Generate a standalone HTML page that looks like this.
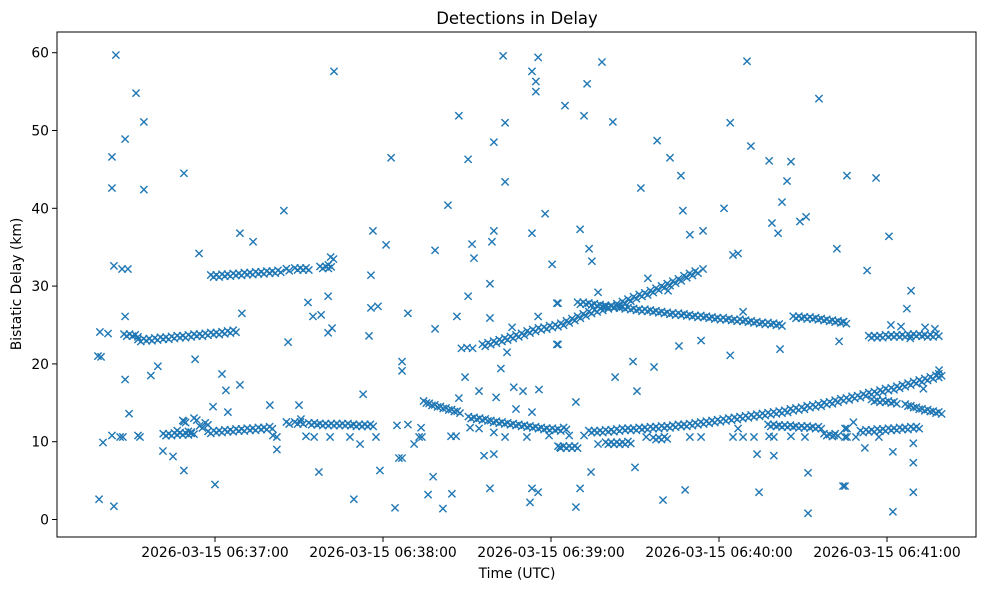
<!DOCTYPE html>
<html><head><meta charset="utf-8"><title>Detections in Delay</title>
<style>
html,body{margin:0;padding:0;background:#fff;}
svg{display:block;font-family:"DejaVu Sans","Liberation Sans",sans-serif;}
</style></head>
<body>
<svg id="chart" width="989" height="590" viewBox="0 0 989 590" xmlns="http://www.w3.org/2000/svg">
<rect x="0" y="0" width="989" height="590" fill="#fff"/>
<text x="517" y="24" text-anchor="middle" font-size="16.5" fill="#000">Detections in Delay</text>
<g id="marks"></g>
<g id="axes"></g>
<text x="517" y="578" text-anchor="middle" font-size="13.9" fill="#000">Time (UTC)</text>
<text transform="translate(21,284) rotate(-90)" text-anchor="middle" font-size="13.9" fill="#000">Bistatic Delay (km)</text>
</svg>
<script>
// time in seconds after 2026-03-15 06:35:55 UTC, delay in km
const xTickSeconds = [65, 125, 185, 245, 305];
const xTickLabels = ["2026-03-15 06:37:00","2026-03-15 06:38:00","2026-03-15 06:39:00","2026-03-15 06:40:00","2026-03-15 06:41:00"];
const yTickValues = [0, 10, 20, 30, 40, 50, 60];

// scattered detections
const scatterTimes = [29.6,36.8,39.6,32.9,28.2,53.9,28.2,39.6,73.9,59.3,28.9,31.8,33.9,74.6,32.9,23.9,26.8,23.2,24.3,32.9,42.1,44.6,57.9,67.5,68.9,73.9,34.3,64.3,53.9,69.6,25.0,28.2,31.1,32.1,37.5,38.2,46.4,50.0,53.9,65.0,23.6,28.9,
107.5,127.9,89.6,78.6,121.4,126.1,120.7,98.2,105.4,100.0,102.9,105.4,106.8,120.7,123.2,120.0,91.1,131.8,131.8,117.9,84.6,95.0,95.7,85.7,87.1,87.1,97.5,100.4,106.1,113.2,116.8,122.5,130.0,130.7,102.1,123.9,114.6,129.3,
167.9,180.4,178.2,179.6,179.6,152.1,168.6,164.6,155.4,168.6,148.2,182.9,164.6,163.9,156.8,178.2,143.6,157.5,185.4,163.2,155.4,187.1,133.9,151.4,163.2,180.4,143.6,171.1,187.1,169.3,167.1,153.0,155.0,157.0,154.3,152.1,159.3,165.4,171.7,175.0,180.7,172.5,178.2,133.9,138.6,136.1,137.9,138.9,149.3,151.1,156.1,159.3,164.6,168.6,176.4,184.3,188.2,161.1,164.6,131.8,142.9,141.1,149.6,146.4,163.2,178.2,180.4,177.5,
203.2,197.9,190.0,196.8,207.1,222.9,227.5,231.4,217.1,232.1,195.4,234.6,239.3,198.6,199.6,219.6,239.3,201.8,226.8,187.5,187.5,230.7,238.6,214.3,221.8,207.9,215.7,193.9,191.5,196.8,201.8,219.0,234.6,238.6,199.3,215.0,195.4,193.9,225.0,232.9,
255.0,280.7,249.0,256.4,262.9,270.7,290.7,269.3,246.8,267.5,263.9,266.1,273.9,276.1,250.0,251.8,287.1,253.6,287.9,249.0,266.8,251.8,250.0,253.6,257.5,262.9,264.6,270.7,275.7,286.1,290.7,290.7,258.6,264.6,276.8,290.0,259.3,276.8,
301.1,305.7,297.9,313.6,312.1,289.3,306.4,310.0,318.6,322.1,313.3,323.6,318.0,290.0,293.0,290.0,293.9,297.1,302.1,307.1,314.4,314.4,289.3,314.4,307.1];
const scatterDelays = [59.7,54.8,51.1,48.9,46.6,44.5,42.6,42.4,36.8,34.2,32.6,32.2,32.2,26.5,26.1,24.1,23.9,21.0,20.9,18.0,18.5,19.7,20.6,18.7,16.6,17.3,13.6,14.5,12.6,13.8,9.9,10.8,10.6,10.6,10.8,10.6,8.8,8.1,6.3,4.5,2.6,1.7,
57.6,46.5,39.7,35.7,37.1,35.3,31.4,27.9,28.7,26.1,26.3,24.0,24.6,27.2,27.4,23.6,22.8,20.3,19.1,16.1,14.7,14.7,12.9,10.8,10.6,9.0,10.7,10.6,10.6,10.6,9.7,10.6,12.1,7.9,6.1,6.3,2.6,1.5,
59.6,59.4,57.6,56.3,55.0,51.9,51.0,48.5,46.3,43.4,40.4,39.3,37.1,35.7,35.4,36.8,34.6,33.6,32.8,30.3,28.7,27.8,26.5,26.1,25.9,26.1,24.5,24.7,22.5,21.5,19.4,22.0,22.1,22.0,18.3,15.6,16.5,15.7,17.0,16.5,16.7,14.2,13.8,12.2,11.8,9.7,10.6,10.6,10.7,10.7,11.8,11.7,11.2,10.6,10.6,10.8,9.3,8.2,8.4,7.9,5.5,3.2,3.3,1.4,4.0,4.0,3.5,2.2,
58.8,56.0,53.2,51.9,51.1,48.7,46.5,44.2,42.6,39.7,37.3,36.6,37.1,34.8,33.2,31.0,32.2,29.2,29.4,27.8,22.5,22.3,23.0,20.3,19.6,18.3,16.5,15.1,10.8,10.8,9.7,10.6,10.6,10.6,6.1,6.7,4.0,1.6,2.5,3.8,
58.9,54.1,51.0,48.0,46.1,46.0,44.2,43.5,40.0,40.8,38.1,36.8,38.3,38.9,34.0,34.2,34.8,26.7,22.9,21.1,21.9,11.7,10.6,10.6,10.6,10.7,10.6,10.7,10.6,10.8,11.7,10.6,8.4,8.2,6.0,4.3,3.5,0.8,
43.9,36.4,32.0,29.4,27.1,25.4,25.0,24.8,24.7,24.5,23.3,19.2,16.8,11.7,12.5,10.6,10.6,9.2,10.6,8.7,7.3,9.8,4.3,3.5,1.0];

// track-like detections
const trackTimes = [33,35,37,38,40,42,44,46,48,50,52,54,56,58,60,62,64,66,68,70,72,
64,66,68,70,72,74,76,78,80,82,84,86,88,91,94,96,98,103,105,106,106.8,
47,49,51,53,55,57,63,65,67,69,71,73,75,77,79,81,83,85,52,54,56,58,60,62,
91,94,96,99,101,103,105,107,109,111,113,115,117,119,121,
140,142,144,146,148,150,152,156,158,160,162,164,166,168,170,172,174,176,178,180,182,184,186,188,190,
161,163,165,167,169,171,173,175,177,179,181,183,185,187,189,191,193,195,197,199,201,203,205,207,209,211,213,215,217,219,221,223,225,227,229,231,233,235,237,
195,197,199,201,203,205,207,209,211,213,215,217,219,221,223,225,227,229,231,233,235,237,239,241,243,245,247,249,251,253,255,257,259,261,263,265,267,
272,274,276,278,280,282,284,286,288,290,
199,201,203,205,207,209,211,213,215,217,219,221,223,225,227,229,231,233,235,237,239,241,243,245,247,249,251,253,255,257,259,261,263,265,267,269,271,273,275,277,279,281,283,285,287,289,291,293,295,297,299,301,303,305,307,309,311,313,315,317,319,321,323,324,
296,298,300,302,304,306,308,310,312,314,316,
300,302,304,306,308,312,314,316,318,320,322,324,
299,301,303,305,307,309,311,313,315,317,319,321,323,
263,265,267,269,271,273,275,277,279,281,283,285,287,
205,207,209,211,213,222,224,226,188,190,192,194];
const trackDelays = [23.7,23.7,23.6,23.0,23.1,23.1,23.2,23.3,23.3,23.4,23.5,23.5,23.6,23.7,23.7,23.8,23.9,23.9,24.0,24.1,24.2,
31.3,31.3,31.4,31.4,31.5,31.5,31.6,31.6,31.7,31.7,31.8,31.8,31.9,32.1,32.2,32.2,32.2,32.4,32.4,32.6,33.6,
10.9,10.9,11.0,11.0,11.0,11.1,11.2,11.3,11.3,11.4,11.4,11.5,11.5,11.6,11.6,11.7,11.7,11.8,11.3,12.6,11.2,12.9,11.9,12.3,
12.4,12.4,12.4,12.3,12.3,12.2,12.2,12.2,12.2,12.2,12.2,12.1,12.1,12.1,12.1,
15.1,14.8,14.6,14.4,14.2,14.0,13.8,13.1,13.0,12.9,12.8,12.6,12.5,12.4,12.3,12.2,12.1,12.0,11.9,11.8,11.7,11.6,11.6,11.5,11.7,
22.4,22.6,22.8,23.0,23.2,23.4,23.6,23.8,24.1,24.3,24.5,24.6,24.8,24.9,25.1,25.4,25.7,26.0,26.3,26.6,26.8,27.0,27.2,27.4,27.6,27.9,28.2,28.5,28.8,29.0,29.3,29.6,29.9,30.2,30.5,30.8,31.2,31.5,31.8,
27.8,27.8,27.7,27.6,27.5,27.4,27.3,27.3,27.2,27.1,27.0,26.9,26.9,26.8,26.7,26.6,26.5,26.4,26.4,26.3,26.2,26.1,26.1,26.0,25.9,25.8,25.8,25.7,25.6,25.6,25.5,25.4,25.3,25.2,25.2,25.1,25.0,
26.0,26.0,25.9,25.9,25.8,25.7,25.6,25.5,25.4,25.3,
11.3,11.3,11.3,11.4,11.4,11.5,11.6,11.6,11.6,11.7,11.7,11.8,11.8,11.9,11.9,12.0,12.1,12.1,12.2,12.3,12.4,12.5,12.6,12.7,12.8,12.9,13.0,13.1,13.2,13.3,13.4,13.5,13.6,13.7,13.8,13.9,14.1,14.2,14.3,14.5,14.6,14.7,14.9,15.0,15.2,15.4,15.5,15.7,15.8,16.0,16.2,16.3,16.5,16.7,16.8,17.0,17.2,17.4,17.6,17.8,18.0,18.2,18.4,18.6,
11.3,11.4,11.4,11.5,11.5,11.6,11.6,11.7,11.7,11.8,11.8,
15.3,15.2,15.2,15.1,15.0,14.7,14.5,14.3,14.1,14.0,13.8,13.7,
23.5,23.5,23.5,23.6,23.6,23.6,23.6,23.7,23.7,23.7,23.6,23.6,23.7,
12.1,12.1,12.0,12.0,12.0,11.9,11.9,11.9,11.8,11.8,10.9,10.8,10.9,
9.8,9.8,9.8,9.8,9.9,10.4,10.4,10.5,9.3,9.3,9.3,9.3];

const NS = "http://www.w3.org/2000/svg";
const plot = {left:57, right:976, top:32, bottom:537};
function xScale(s){ return 33 + 2.8 * s; }
function yScale(v){ return 519.5 - 7.78 * v; }

const marks = document.getElementById('marks');
function markerPath(cx, cy, r){
  return `M${cx-r},${cy-r}L${cx+r},${cy+r}M${cx-r},${cy+r}L${cx+r},${cy-r}`;
}
function drawX(s, v, name){
  const p = document.createElementNS(NS, 'path');
  p.setAttribute('d', markerPath(xScale(s), yScale(v), 3.6));
  p.setAttribute('stroke', '#1f77b4');
  p.setAttribute('stroke-width', '1.4');
  p.setAttribute('fill', 'none');
  
  
  marks.appendChild(p);
}
// dense track detections: drawn as a slightly thickened cluster of markers
function drawTrackX(s, v){
  const cx = xScale(s), cy = yScale(v);
  const d = markerPath(cx - 1.4, cy - 1, 3.6) + markerPath(cx + 1.4, cy + 1, 3.6);
  const p = document.createElementNS(NS, 'path');
  p.setAttribute('d', d);
  p.setAttribute('stroke', '#1f77b4');
  p.setAttribute('stroke-width', '1.4');
  p.setAttribute('fill', 'none');
  
  
  marks.appendChild(p);
}
for (let i = 0; i < scatterTimes.length; i++) drawX(scatterTimes[i], scatterDelays[i], 'detection-marker');
for (let i = 0; i < trackTimes.length; i++) drawTrackX(trackTimes[i], trackDelays[i]);

const axes = document.getElementById('axes');
const frame = document.createElementNS(NS, 'rect');
frame.setAttribute('x', plot.left); frame.setAttribute('y', plot.top);
frame.setAttribute('width', plot.right - plot.left); frame.setAttribute('height', plot.bottom - plot.top);
frame.setAttribute('fill', 'none'); frame.setAttribute('stroke', '#000'); frame.setAttribute('stroke-width', '1');


axes.appendChild(frame);

xTickSeconds.forEach((s, i) => {
  const x = xScale(s);
  const t = document.createElementNS(NS, 'line');
  t.setAttribute('x1', x); t.setAttribute('x2', x); t.setAttribute('y1', plot.bottom); t.setAttribute('y2', plot.bottom + 5);
  t.setAttribute('stroke', '#000');
  
  
  axes.appendChild(t);
  const l = document.createElementNS(NS, 'text');
  l.setAttribute('x', x); l.setAttribute('y', plot.bottom + 20);
  l.setAttribute('text-anchor', 'middle'); l.setAttribute('font-size', '13.9');
  l.textContent = xTickLabels[i];
  
  
  axes.appendChild(l);
});
yTickValues.forEach(v => {
  const y = yScale(v);
  const t = document.createElementNS(NS, 'line');
  t.setAttribute('x1', plot.left - 5); t.setAttribute('x2', plot.left); t.setAttribute('y1', y); t.setAttribute('y2', y);
  t.setAttribute('stroke', '#000');
  
  
  axes.appendChild(t);
  const l = document.createElementNS(NS, 'text');
  l.setAttribute('x', plot.left - 8); l.setAttribute('y', y + 5);
  l.setAttribute('text-anchor', 'end'); l.setAttribute('font-size', '13.9');
  l.textContent = String(v);
  
  
  axes.appendChild(l);
});
</script>
</body></html>
